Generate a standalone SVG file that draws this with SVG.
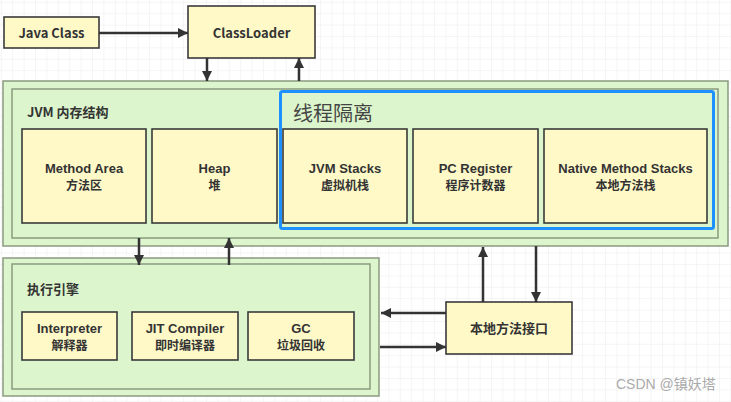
<svg xmlns="http://www.w3.org/2000/svg" width="731" height="402" viewBox="0 0 731 402">
<defs>
<pattern id="grid" x="0.8" y="1.8" width="11.4" height="11.4" patternUnits="userSpaceOnUse">
<path d="M0 0H11.4M0 0V11.4" fill="none" stroke="#ebebeb" stroke-width="1"/>
</pattern>
<marker id="ah" viewBox="0 0 10 10" refX="10" refY="5" markerWidth="4.4" markerHeight="4" orient="auto" markerUnits="strokeWidth">
<path d="M0 0L10 5L0 10Z" fill="#333"/>
</marker>
<style>
.node{fill:#fff9c8;stroke:#3a3a3a;stroke-width:1.6}
.grp{fill:#dcf5cc;stroke:#8a9a80;stroke-width:1.5}
.t{font-family:"Noto Sans CJK SC","Open Sans",sans-serif;font-weight:bold;font-size:13px;fill:#333;text-anchor:middle}
.e{font-family:"Liberation Sans",Arial,sans-serif;font-weight:bold;font-size:13px;fill:#333;text-anchor:middle}
.z{font-family:"Noto Sans CJK SC",sans-serif;font-weight:bold;font-size:12px;fill:#333;text-anchor:middle}
.lbl{font-family:"Noto Sans CJK SC","Open Sans",sans-serif;font-weight:bold;font-size:13px;fill:#333}
.c{fill:none;stroke:#333;stroke-width:2.5;marker-end:url(#ah)}
</style>
</defs>
<rect width="731" height="402" fill="#fff"/>
<rect width="731" height="402" fill="url(#grid)"/>

<g id="jvm-memory">
<rect class="grp" x="3" y="81" width="725" height="165"/>
<rect class="grp" x="12" y="89" width="706" height="149"/>
<text class="lbl" x="27" y="117">JVM 内存结构</text>
</g>
<g id="exec-engine">
<rect class="grp" x="3" y="258" width="376" height="138"/>
<rect class="grp" x="12" y="264" width="358" height="125"/>
<text class="lbl" x="27" y="294">执行引擎</text>
</g>

<g id="java-class"><rect class="node" x="4" y="17" width="95" height="31"/><text class="t" x="51.5" y="37.5">Java Class</text></g>
<g id="classloader"><rect class="node" x="188" y="6" width="127" height="52"/><text class="t" x="251.5" y="37.5">ClassLoader</text></g>

<g id="method-area"><rect class="node" x="22" y="129" width="124" height="94"/><text class="e" x="84" y="173">Method Area</text><text class="z" x="84" y="190">方法区</text></g>
<g id="heap"><rect class="node" x="152" y="129" width="125" height="94"/><text class="e" x="214.5" y="173">Heap</text><text class="z" x="214.5" y="190">堆</text></g>
<g id="jvm-stacks"><rect class="node" x="283" y="129" width="124" height="94"/><text class="e" x="345" y="173">JVM Stacks</text><text class="z" x="345" y="190">虚拟机栈</text></g>
<g id="pc-register"><rect class="node" x="413" y="129" width="125" height="94"/><text class="e" x="475.5" y="173">PC Register</text><text class="z" x="475.5" y="190">程序计数器</text></g>
<g id="native-method-stacks"><rect class="node" x="544" y="129" width="163" height="94"/><text class="e" x="625.5" y="173">Native Method Stacks</text><text class="z" x="625.5" y="190">本地方法栈</text></g>

<g id="thread-isolation">
<rect x="280.5" y="91.5" width="433" height="137" rx="2" fill="none" stroke="#1e90ff" stroke-width="3"/>
<text x="293" y="121" font-family="'Noto Sans CJK SC',sans-serif" font-size="20" fill="#444">线程隔离</text>
</g>

<g id="interpreter"><rect class="node" x="22" y="312" width="95" height="48"/><text class="e" x="69.5" y="333">Interpreter</text><text class="z" x="69.5" y="350">解释器</text></g>
<g id="jit"><rect class="node" x="132" y="312" width="106" height="48"/><text class="e" x="185" y="333">JIT Compiler</text><text class="z" x="185" y="350">即时编译器</text></g>
<g id="gc"><rect class="node" x="248" y="312" width="106" height="48"/><text class="e" x="301" y="333">GC</text><text class="z" x="301" y="350">垃圾回收</text></g>

<g id="native-interface"><rect class="node" x="446" y="302" width="126" height="52"/><text class="t" x="509" y="333">本地方法接口</text></g>

<g id="connectors">
<path class="c" d="M99 33H188"/>
<path class="c" d="M207 58V81"/>
<path class="c" d="M299 81V58"/>
<path class="c" d="M139 238V265"/>
<path class="c" d="M229 265V238"/>
<path class="c" d="M483 302V247"/>
<path class="c" d="M536 246V302"/>
<path class="c" d="M446 313H381"/>
<path class="c" d="M380 347H446"/>
</g>

<text x="616" y="389" font-family="'Liberation Sans','Noto Sans CJK SC',sans-serif" font-size="14" fill="#aaa">CSDN @镇妖塔</text>
</svg>
